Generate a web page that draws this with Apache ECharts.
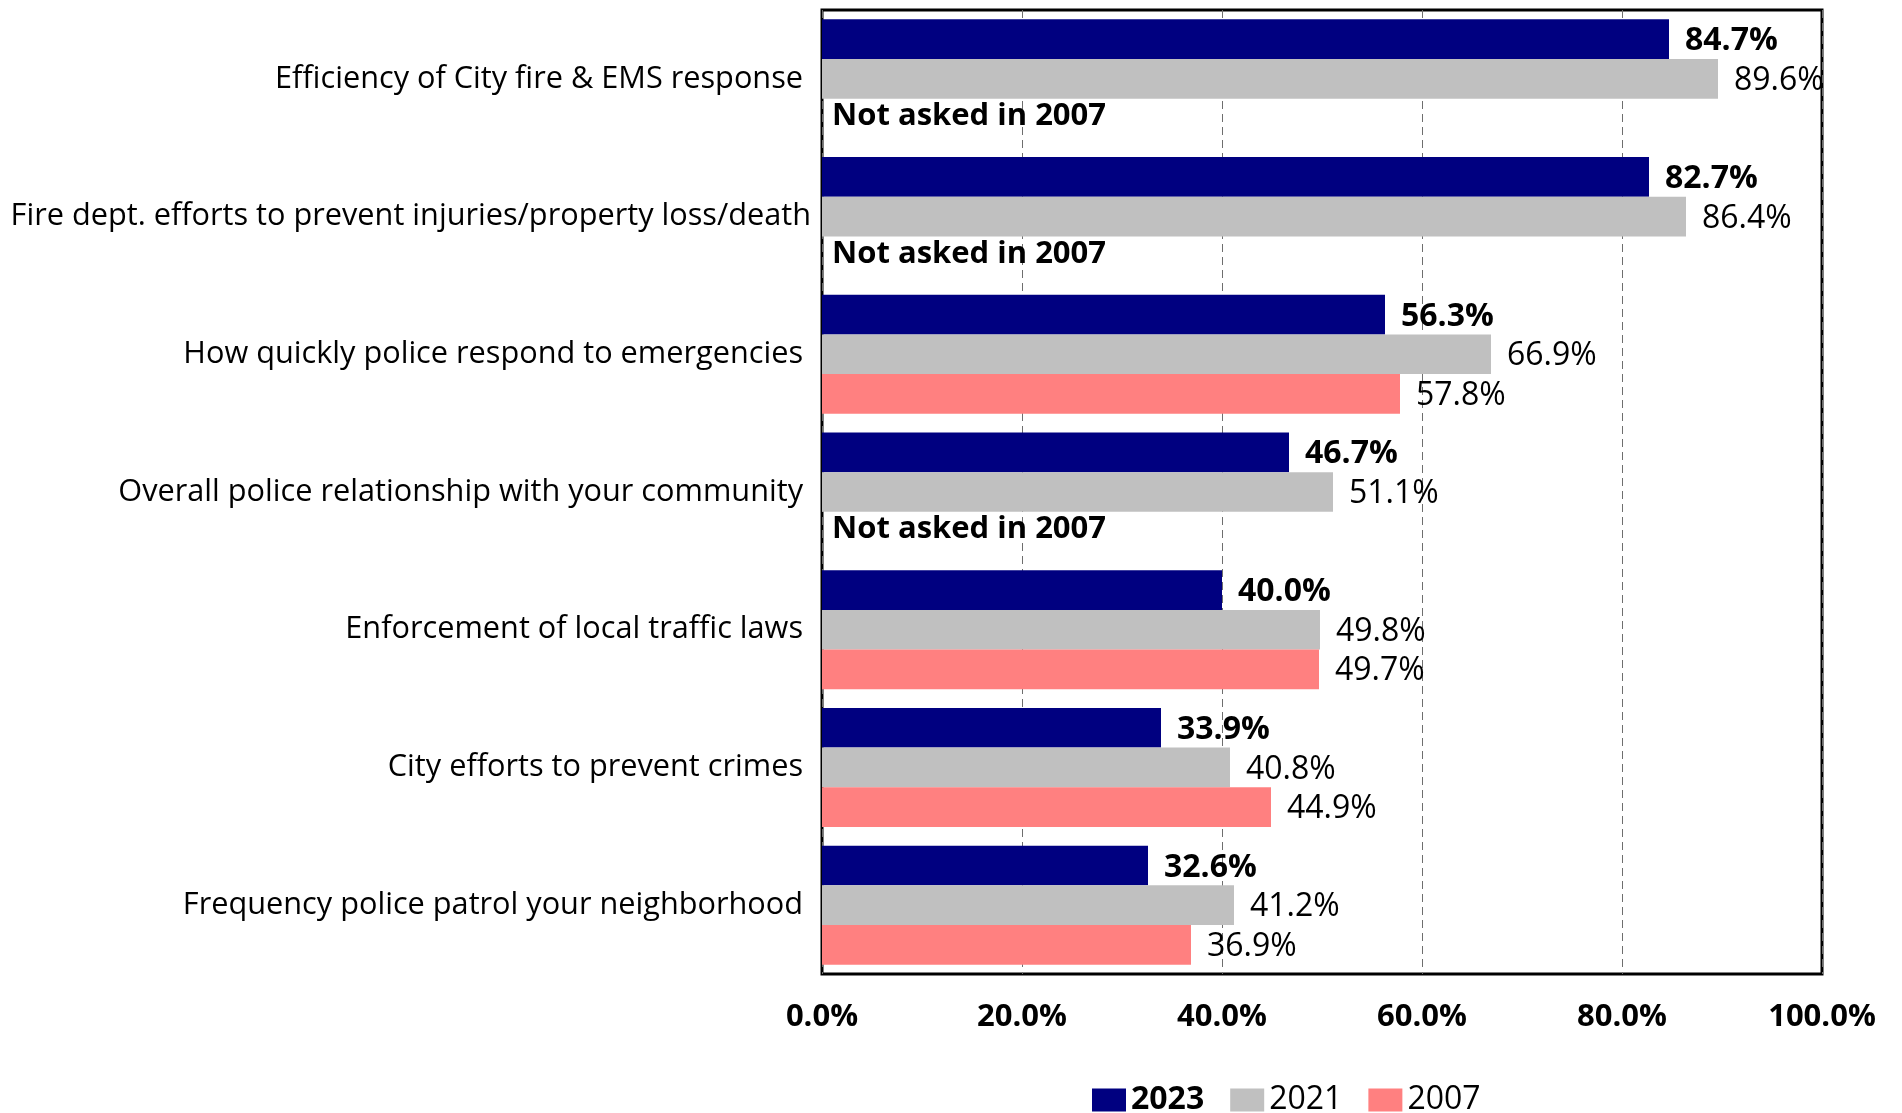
<!DOCTYPE html>
<html>
<head>
<meta charset="utf-8">
<title>Public safety service ratings</title>
<script src="https://cdn.jsdelivr.net/npm/echarts@6/dist/echarts.min.js"></script>
<style>
  html, body { margin: 0; padding: 0; background: #fff; }
  #chart { width: 1902px; height: 1113px; }
</style>
</head>
<body>
<div id="chart"></div>
<script>
// Survey items, listed top to bottom
const categories = [
  'Efficiency of City fire & EMS response ',
  'Fire dept. efforts to prevent injuries/property loss/death',
  'How quickly police respond to emergencies ',
  'Overall police relationship with your community ',
  'Enforcement of local traffic laws ',
  'City efforts to prevent crimes ',
  'Frequency police patrol your neighborhood '
];

// Percent satisfied by survey year (null = item not on that survey)
const values2023 = [84.7, 82.7, 56.3, 46.7, 40.0, 33.9, 32.6];
const values2021 = [89.6, 86.4, 66.9, 51.1, 49.8, 40.8, 41.2];
const values2007 = [null, null, 57.8, null, 49.7, 44.9, 36.9];

const notAskedNote = 'Not asked in 2007';
const xTicks = { min: 0, max: 100, interval: 20 };

const FONT = '"Open Sans", "Noto Sans", sans-serif';

const pct = v => Number(v).toFixed(1) + '%';

const chart = echarts.init(document.getElementById('chart'), null, { renderer: 'canvas' });

const labelBase = {
  show: true,
  position: 'right',
  distance: 16,
  offset: [0, 2],
  color: '#000',
  fontFamily: FONT,
  fontSize: 32
};

chart.setOption({
  backgroundColor: '#fff',
  animation: false,
  textStyle: { fontFamily: FONT },
  grid: {
    left: 822,
    right: 80,
    top: 10,
    bottom: 139,
    show: true,
    borderColor: '#000',
    borderWidth: 3,
    backgroundColor: 'transparent',
    containLabel: false
  },
  legend: {
    left: 1087,
    top: 1079,
    itemWidth: 34,
    itemHeight: 23,
    itemGap: 26,
    icon: 'rect',
    textStyle: { fontFamily: FONT, fontSize: 32, color: '#000', padding: [0, 0, 0, 0] },
    data: [
      { name: '2023', textStyle: { fontWeight: 'bold' } },
      { name: '2021' },
      { name: '2007' }
    ]
  },
  xAxis: {
    type: 'value',
    min: xTicks.min,
    max: xTicks.max,
    interval: xTicks.interval,
    axisLine: { show: false },
    axisTick: { show: false },
    splitLine: {
      show: true,
      lineStyle: { color: '#6e6e6e', width: 1, type: [8, 5] }
    },
    axisLabel: {
      formatter: pct,
      fontFamily: FONT,
      fontSize: 31,
      fontWeight: 'bold',
      color: '#000',
      margin: 28
    }
  },
  yAxis: {
    type: 'category',
    inverse: true,
    data: categories,
    axisLine: { show: false },
    axisTick: { show: false },
    axisLabel: {
      fontFamily: FONT,
      fontSize: 30.7,
      color: '#000',
      margin: 11
    }
  },
  series: [
    {
      name: '2023',
      type: 'bar',
      data: values2023,
      barGap: '0%',
      barCategoryGap: '13.6%',
      itemStyle: { color: '#000080' },
      label: Object.assign({}, labelBase, { fontWeight: 'bold', formatter: p => pct(p.value) })
    },
    {
      name: '2021',
      type: 'bar',
      data: values2021,
      barGap: '0%',
      barCategoryGap: '13.6%',
      itemStyle: { color: '#c0c0c0' },
      label: Object.assign({}, labelBase, { formatter: p => pct(p.value) })
    },
    {
      name: '2007',
      type: 'bar',
      barGap: '0%',
      barCategoryGap: '13.6%',
      itemStyle: { color: '#ff8080' },
      label: Object.assign({}, labelBase, { formatter: p => pct(p.value) }),
      // Items missing from the 2007 survey carry a note instead of a bar
      data: values2007.map(v => v === null
        ? { value: 0, label: { formatter: notAskedNote, fontWeight: 'bold', fontSize: 31, distance: 10, offset: [0, -2] } }
        : v)
    }
  ]
});
</script>
</body>
</html>
